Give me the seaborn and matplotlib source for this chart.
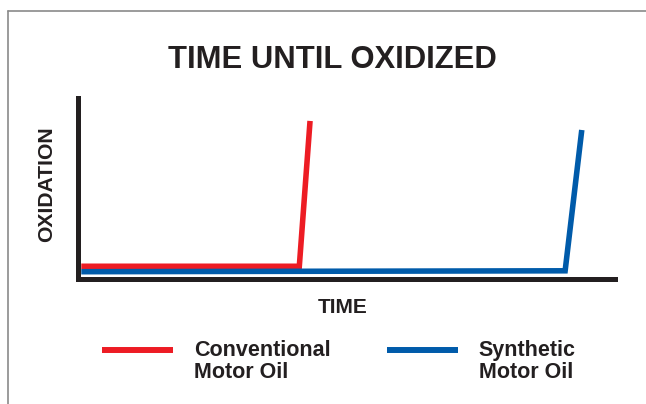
import pandas as pd
import matplotlib.pyplot as plt
import seaborn as sns
from matplotlib.lines import Line2D

# --- Data (arbitrary 0-100 units) ---
OIL_NAMES = ['Conventional\nMotor Oil', 'Synthetic\nMotor Oil']
conventional_time = [0.7, 41.3, 43.3]
conventional_oxidation = [7.3, 7.3, 87.6]
synthetic_time = [0.7, 90.8, 93.9]
synthetic_oxidation = [4.3, 4.8, 82.6]

COLORS = ['#ED1C24', '#005BAA']
INK = '#231F20'
FONT = 'Liberation Sans'

sns.set_style("white")
plt.rcParams['font.family'] = [FONT, 'DejaVu Sans']


def build_frame():
    rows = []
    for name, xs, ys in [(OIL_NAMES[0], conventional_time, conventional_oxidation),
                         (OIL_NAMES[1], synthetic_time, synthetic_oxidation)]:
        for i, (x, y) in enumerate(zip(xs, ys)):
            rows.append({'oil': name, 'step': i, 'time': x, 'oxidation': y})
    return pd.DataFrame(rows)


def main():
    df = build_frame()

    fig = plt.figure(figsize=(6.46, 4.04), dpi=100)
    ax = fig.add_axes([0.1200, 0.3082, 0.8313, 0.4480])

    sns.lineplot(data=df, x='time', y='oxidation', hue='oil',
                 palette=dict(zip(OIL_NAMES, COLORS)), sort=False,
                 estimator=None, linewidth=4.0, ax=ax,
                 solid_joinstyle='miter', solid_capstyle='butt')

    ax.set_xlim(0, 100)
    ax.set_ylim(0, 100)
    ax.set_xticks([])
    ax.set_yticks([])
    sns.despine(ax=ax)
    for side in ['left', 'bottom']:
        ax.spines[side].set_linewidth(3.6)
        ax.spines[side].set_color(INK)

    ax.set_xlabel('')
    ax.set_ylabel('')
    fig.text(342.5 / 646, 1 - 307.5 / 404, 'TIME', ha='center', va='center',
             fontsize=15, fontweight='bold', color=INK)
    fig.text(46.5 / 646, 1 - 184 / 404, 'OXIDATION', ha='center', va='center',
             rotation=90, fontsize=15.2, fontweight='bold', color=INK)
    fig.text(332.5 / 646, 1 - 60.5 / 404, 'TIME UNTIL OXIDIZED', ha='center',
             va='center', fontsize=22.3, fontweight='bold', color=INK)

    # legend below the axes
    handles, labels = ax.get_legend_handles_labels()
    leg = ax.legend(handles, labels, ncol=2, frameon=False, loc='upper left',
                    bbox_to_anchor=(102 / 646, 1 - 340 / 404),
                    bbox_transform=fig.transFigure, borderpad=0,
                    borderaxespad=0, handlelength=3.3, handletextpad=0.98,
                    columnspacing=2.6,
                    prop={'family': FONT, 'weight': 'bold', 'size': 15.5})
    for line in leg.get_lines():
        line.set_linewidth(4.3)
        line.set_solid_capstyle('butt')
        # line the handle up with the first row of its label
        line.set_ydata(line.get_ydata() + 8.5)
    for t in leg.get_texts():
        t.set_color(INK)
        t.set_linespacing(1.05)

    # thin grey frame on the top and left of the page
    fig.add_artist(Line2D([8 / 646, 1], [1 - 11 / 404, 1 - 11 / 404],
                          transform=fig.transFigure, color='#8a8a8a', lw=1.2))
    fig.add_artist(Line2D([8 / 646, 8 / 646], [0, 1 - 11 / 404],
                          transform=fig.transFigure, color='#8a8a8a', lw=1.2))

    fig.savefig('out.png', dpi=100)
    plt.close(fig)


if __name__ == "__main__":
    main()
